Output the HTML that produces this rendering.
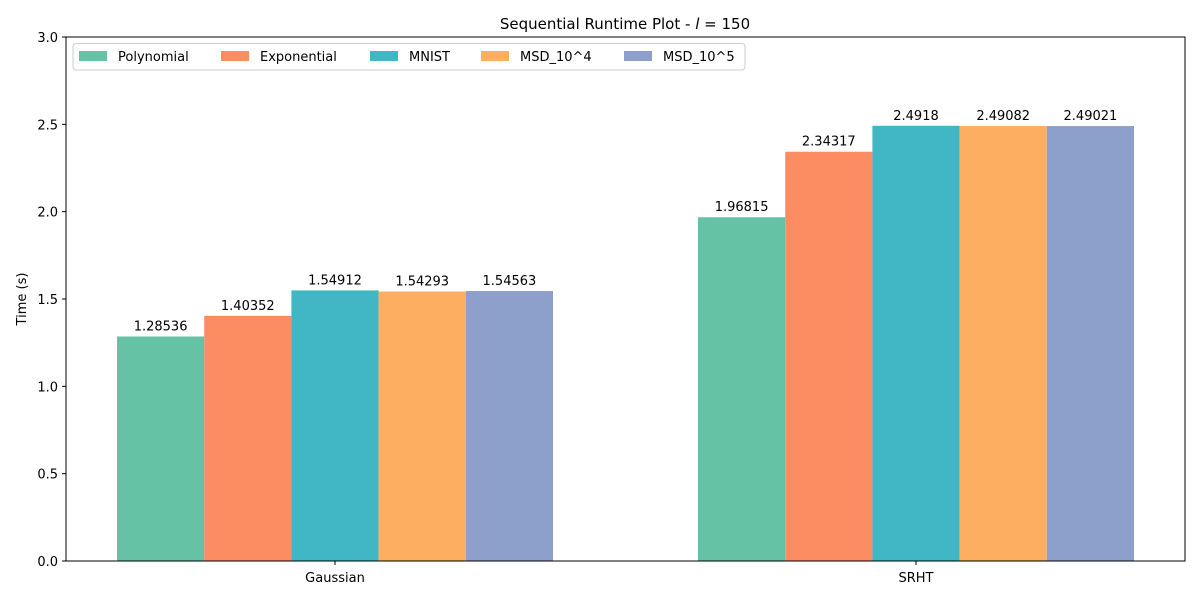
<!DOCTYPE html>
<html><head><meta charset="utf-8"><style>
body{margin:0;background:#fff;}
svg{display:block;font-family:"DejaVu Sans","Liberation Sans",sans-serif;}
</style></head><body>
<svg id="chart" width="1200" height="600">
<text x="625" y="29" font-size="15" text-anchor="middle">Sequential Runtime Plot - <tspan font-style="italic">l</tspan> = 150</text>
<text transform="translate(26,299) rotate(-90)" font-size="13" text-anchor="middle">Time (s)</text>
<g id="bars"></g><g id="ticks"></g>
<rect x="66" y="37" width="1119" height="524" fill="none" stroke="#000" stroke-width="1"/>
<g id="legend"></g>
</svg>
<script>
const categories=["Gaussian","SRHT"];
const seriesNames=["Polynomial","Exponential","MNIST","MSD_10^4","MSD_10^5"];
const polynomial=[1.28536,1.96815];
const exponential=[1.40352,2.34317];
const mnist=[1.54912,2.4918];
const msd4=[1.54293,2.49082];
const msd5=[1.54563,2.49021];
const yTicks=[0,0.5,1.0,1.5,2.0,2.5,3.0];
const colors=["#66c2a5","#fc8d62","#41b6c4","#fdae61","#8da0cb"];
const series=[polynomial,exponential,mnist,msd4,msd5];
const NS="http://www.w3.org/2000/svg";
const y=v=>561-v*(524/3);
const xc=i=>335+i*581;
const bw=87.2;
function mk(t,a,p){const e=document.createElementNS(NS,t);for(const k in a)e.setAttribute(k,a[k]);p.appendChild(e);return e;}
const bars=document.getElementById('bars'),ticks=document.getElementById('ticks'),leg=document.getElementById('legend');
series.forEach((s,si)=>{s.forEach((v,ci)=>{
 const x=xc(ci)+(si-2)*bw-bw/2;
 const r=mk('rect',{x:x,y:y(v),width:bw,height:561-y(v),fill:colors[si]},bars);
 
 
 const t=mk('text',{x:x+bw/2,y:y(v)-6,'font-size':13,'text-anchor':'middle'},bars);
 t.textContent=String(v);
 
 
});});
yTicks.forEach(v=>{
 mk('line',{x1:62,x2:66,y1:y(v),y2:y(v),stroke:'#000'},ticks);
 const t=mk('text',{x:58,y:y(v)+5,'font-size':13,'text-anchor':'end'},ticks);
 t.textContent=v.toFixed(1);
 
 
});
categories.forEach((c,i)=>{
 mk('line',{x1:xc(i),x2:xc(i),y1:561,y2:565,stroke:'#000'},ticks);
 const t=mk('text',{x:xc(i),y:582,'font-size':13,'text-anchor':'middle'},ticks);
 t.textContent=c;
 
 
});
const box=mk('rect',{x:73,y:43.5,width:672,height:26.5,rx:3,fill:'#fff',stroke:'#ccc'},leg);


const lx=[79,221,370,481,624];
seriesNames.forEach((n,i)=>{
 const p=mk('rect',{x:lx[i],y:51,width:28,height:10,fill:colors[i]},leg);
 
 
 const t=mk('text',{x:lx[i]+39,y:61,'font-size':13},leg);
 t.textContent=n;
 
 
});
</script>
</body></html>
